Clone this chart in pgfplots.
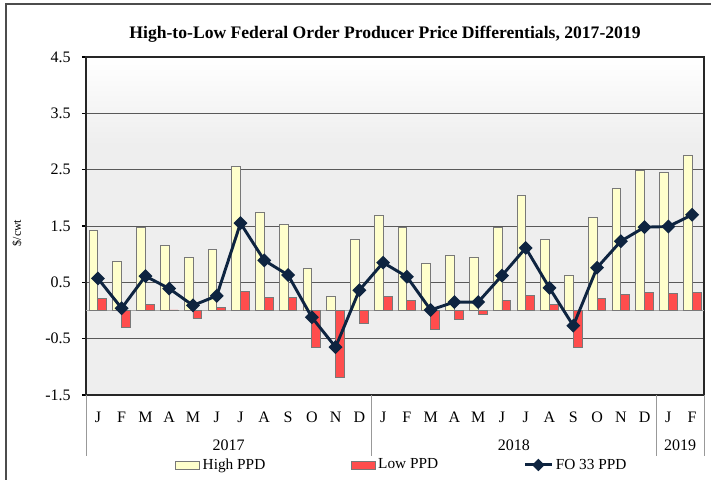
\documentclass[border=0pt]{standalone}
\usepackage{fontspec}
\setmainfont{Liberation Serif}
\usepackage{pgfplots}
\pgfplotsset{compat=1.18}
\definecolor{highc}{RGB}{255,255,204}
\definecolor{lowc}{RGB}{255,77,77}
\definecolor{linec}{RGB}{14,36,64}
\definecolor{edgec}{RGB}{120,120,120}
\definecolor{bggray}{RGB}{238,238,238}
\pgfdeclareverticalshading{bgshade}{100bp}{color(0bp)=(bggray); color(25bp)=(bggray); color(62bp)=(bggray); color(75bp)=(white); color(100bp)=(white)}
\begin{document}
\begin{tikzpicture}
\begin{scope}[x=0.75pt,y=0.75pt]
\useasboundingbox (0,0) rectangle (711,479);
\draw[gray!60!black, line width=1pt] (6,-20) -- (6,475) -- (740,475);
\node[font=\fontsize{13.2pt}{15pt}\selectfont\bfseries] at (385,445) {High-to-Low Federal Order Producer Price Differentials, 2017-2019};
\node[rotate=90, font=\fontsize{9pt}{10pt}\selectfont] at (17,246) {\$/cwt};
\end{scope}
\begin{axis}[
 at={(64.5pt,63pt)}, anchor=south west,
 scale only axis, width=463.5pt, height=253.5pt,
 xmin=-0.5, xmax=25.5, ymin=-1.5, ymax=4.5,
 axis background/.style={shading=bgshade},
 axis line style={black!85, line width=1.1pt},
 ymajorgrids, grid style={black!65, line width=0.7pt},
 ytick={-1.5,-0.5,0.5,1.5,2.5,3.5,4.5},
 yticklabels={-1.5,-0.5,0.5,1.5,2.5,3.5,4.5},
 xtick={0,...,25},
 xticklabels={J,F,M,A,M,J,J,A,S,O,N,D,J,F,M,A,M,J,J,A,S,O,N,D,J,F},
 tick align=outside, tick pos=left,
 major tick length=3pt,
 xtick style={draw=none},
 ytick style={black, line width=0.8pt},
 ticklabel style={font=\fontsize{12pt}{14pt}\selectfont},
 xticklabel style={yshift=-6pt},
 yticklabel style={xshift=-5pt},
 clip=false,
 legend style={draw=none, fill=none, legend columns=3, at={(0.144,-0.207)}, anchor=west,
   font=\fontsize{11.5pt}{13pt}\selectfont, inner sep=0pt,
   /tikz/every even column/.append style={column sep=62pt}},
 legend cell align=left,
]
\addplot[gray!70, line width=0.8pt, forget plot] coordinates {(-0.5,0) (25.5,0)};
\addplot[ybar, bar width=0.37, bar shift=-0.185, fill=highc, draw=edgec, line width=0.6pt,
  legend image code/.code={\draw[fill=highc, draw=edgec, line width=0.6pt] (0pt,-3pt) rectangle (18pt,3pt);}]
 coordinates {(0,1.43) (1,0.88) (2,1.47) (3,1.16) (4,0.94) (5,1.08) (6,2.55) (7,1.75) (8,1.53) (9,0.74) (10,0.25) (11,1.26)
 (12,1.69) (13,1.47) (14,0.83) (15,0.98) (16,0.95) (17,1.48) (18,2.04) (19,1.26) (20,0.62) (21,1.65) (22,2.17) (23,2.48)
 (24,2.45) (25,2.75)};
\addlegendentry{High PPD}
\addplot[ybar, bar width=0.37, bar shift=0.185, fill=lowc, draw=edgec, line width=0.6pt,
  legend image code/.code={\draw[fill=lowc, draw=edgec, line width=0.6pt] (0pt,-3pt) rectangle (18pt,3pt);}]
 coordinates {(0,0.21) (1,-0.30) (2,0.11) (3,0.01) (4,-0.14) (5,0.05) (6,0.34) (7,0.23) (8,0.23) (9,-0.66) (10,-1.19) (11,-0.23)
 (12,0.25) (13,0.18) (14,-0.34) (15,-0.15) (16,-0.07) (17,0.18) (18,0.27) (19,0.11) (20,-0.65) (21,0.21) (22,0.29) (23,0.32)
 (24,0.30) (25,0.32)};
\addlegendentry{Low PPD}
\addplot[linec, line width=2.2pt, mark=square*, mark size=2.6pt, mark options={rotate=45, solid},
  legend image code/.code={\draw[linec, line width=2.2pt, mark=square*, mark size=2.2pt, mark options={rotate=45}, mark repeat=2, mark phase=2] plot coordinates {(0pt,0pt) (10pt,0pt) (20pt,0pt)};}]
 coordinates {(0,0.57) (1,0.04) (2,0.61) (3,0.39) (4,0.09) (5,0.26) (6,1.55) (7,0.89) (8,0.63) (9,-0.12) (10,-0.65) (11,0.36)
 (12,0.85) (13,0.60) (14,0.01) (15,0.15) (16,0.15) (17,0.62) (18,1.11) (19,0.40) (20,-0.27) (21,0.76) (22,1.23) (23,1.48)
 (24,1.49) (25,1.70)};
\addlegendentry{FO 33 PPD}
\draw[gray!80, line width=0.6pt] (axis cs:-0.5,-1.5) -- (axis cs:-0.5,-2.583);
\draw[gray!80, line width=0.6pt] (axis cs:11.5,-1.5) -- (axis cs:11.5,-2.583);
\draw[gray!80, line width=0.6pt] (axis cs:23.5,-1.5) -- (axis cs:23.5,-2.583);
\draw[gray!80, line width=0.6pt] (axis cs:25.5,-1.5) -- (axis cs:25.5,-2.583);
\node[font=\fontsize{12pt}{14pt}\selectfont] at (axis cs:5.5,-2.39) {2017};
\node[font=\fontsize{12pt}{14pt}\selectfont] at (axis cs:17.5,-2.39) {2018};
\node[font=\fontsize{12pt}{14pt}\selectfont] at (axis cs:24.5,-2.39) {2019};
\end{axis}
\end{tikzpicture}
\end{document}
